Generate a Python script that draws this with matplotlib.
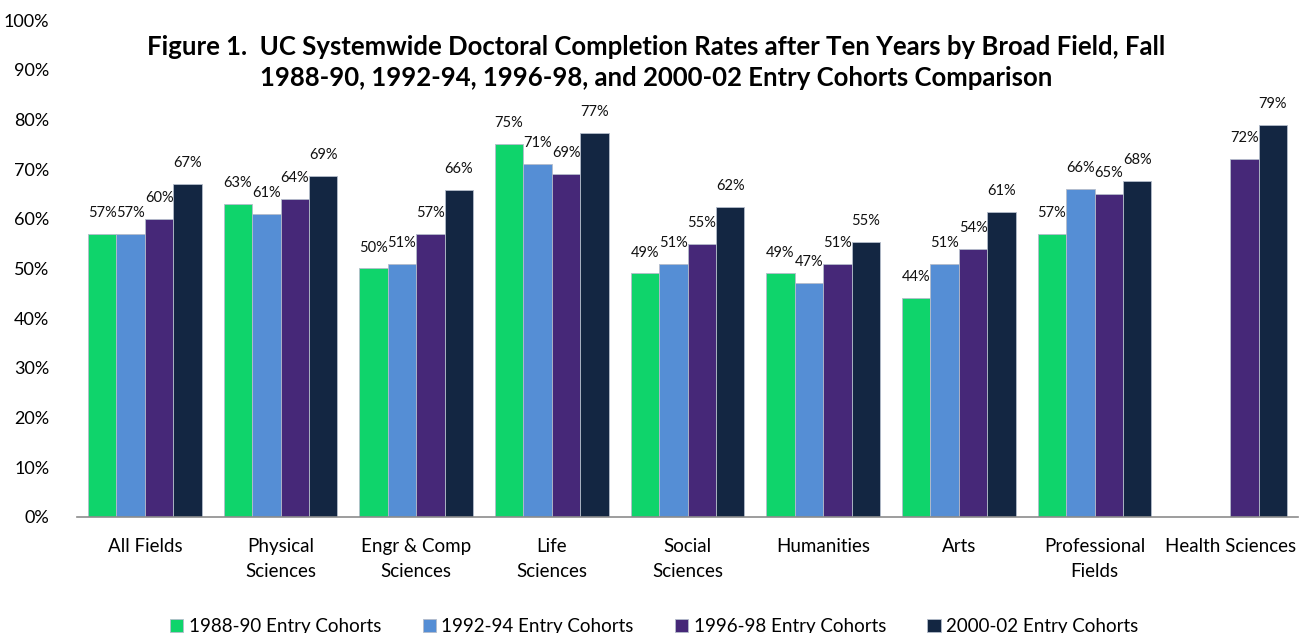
import numpy as np
import matplotlib
matplotlib.use("Agg")
import matplotlib.pyplot as plt

# ------------------------------------------------------------------
# data
# ------------------------------------------------------------------
fields = ["All Fields", "Physical\nSciences", "Engr & Comp\nSciences", "Life\nSciences",
          "Social\nSciences", "Humanities", "Arts", "Professional\nFields", "Health Sciences"]
cohorts = ["1988-90 Entry Cohorts", "1992-94 Entry Cohorts",
           "1996-98 Entry Cohorts", "2000-02 Entry Cohorts"]
rates_1988 = [57, 63, 50, 75, 49, 49, 44, 57, np.nan]
rates_1992 = [57, 61, 51, 71, 51, 47, 51, 66, np.nan]
rates_1996 = [60, 64, 57, 69, 55, 51, 54, 65, 72]
rates_2000 = [67.0, 68.6, 65.8, 77.3, 62.3, 55.4, 61.4, 67.7, 78.9]
colors = ["#0FD46B", "#558ED5", "#462878", "#132642"]

title = ("Figure 1.  UC Systemwide Doctoral Completion Rates after Ten Years by Broad Field, Fall\n"
         "1988-90, 1992-94, 1996-98, and 2000-02 Entry Cohorts Comparison")

plt.rcParams["font.family"] = ["Lato", "DejaVu Sans"]

fig = plt.figure(figsize=(13.01, 6.33), dpi=100)
ax = fig.add_axes([0.0592, 0.1833, 0.9385, 0.7851])

x = np.arange(len(fields))
width = 0.21
series = [rates_1988, rates_1992, rates_1996, rates_2000]
for i, (vals, name, col) in enumerate(zip(series, cohorts, colors)):
    pos = x + (i - 1.5) * width
    ax.bar(pos, vals, width, color=col, label=name,
           edgecolor="#b4bccb", linewidth=0.6)
    for p, v in zip(pos, vals):
        if np.isnan(v):
            continue
        ax.text(p, v + 2.8, f"{v:.0f}%", ha="center", va="bottom", fontsize=10.5, color="#111111")

ax.set_xlim(-0.5, len(fields) - 0.5)
ax.set_ylim(0, 100)
ax.set_yticks(np.arange(0, 101, 10))
ax.set_yticklabels([f"{t}%" for t in range(0, 101, 10)])
ax.set_xticks(x)
ax.set_xticklabels(fields, linespacing=1.55)
ax.tick_params(axis="y", length=0, pad=20, labelsize=13)
ax.tick_params(axis="x", length=0, pad=15, labelsize=13.5)
for side in ["left", "right", "top"]:
    ax.spines[side].set_visible(False)
ax.spines["bottom"].set_color("#8c8c8c")
ax.spines["bottom"].set_linewidth(1.2)

fig.text(0.504, 0.902, title, ha="center", va="center", fontsize=18.5,
         fontweight="bold", linespacing=1.35)

fig.legend(loc="lower center", bbox_to_anchor=(0.503, -0.03), ncol=4, frameon=False,
           fontsize=13.5, handlelength=0.7, handleheight=0.7, handletextpad=0.3,
           columnspacing=2.2)

fig.savefig("out.png", dpi=100)
